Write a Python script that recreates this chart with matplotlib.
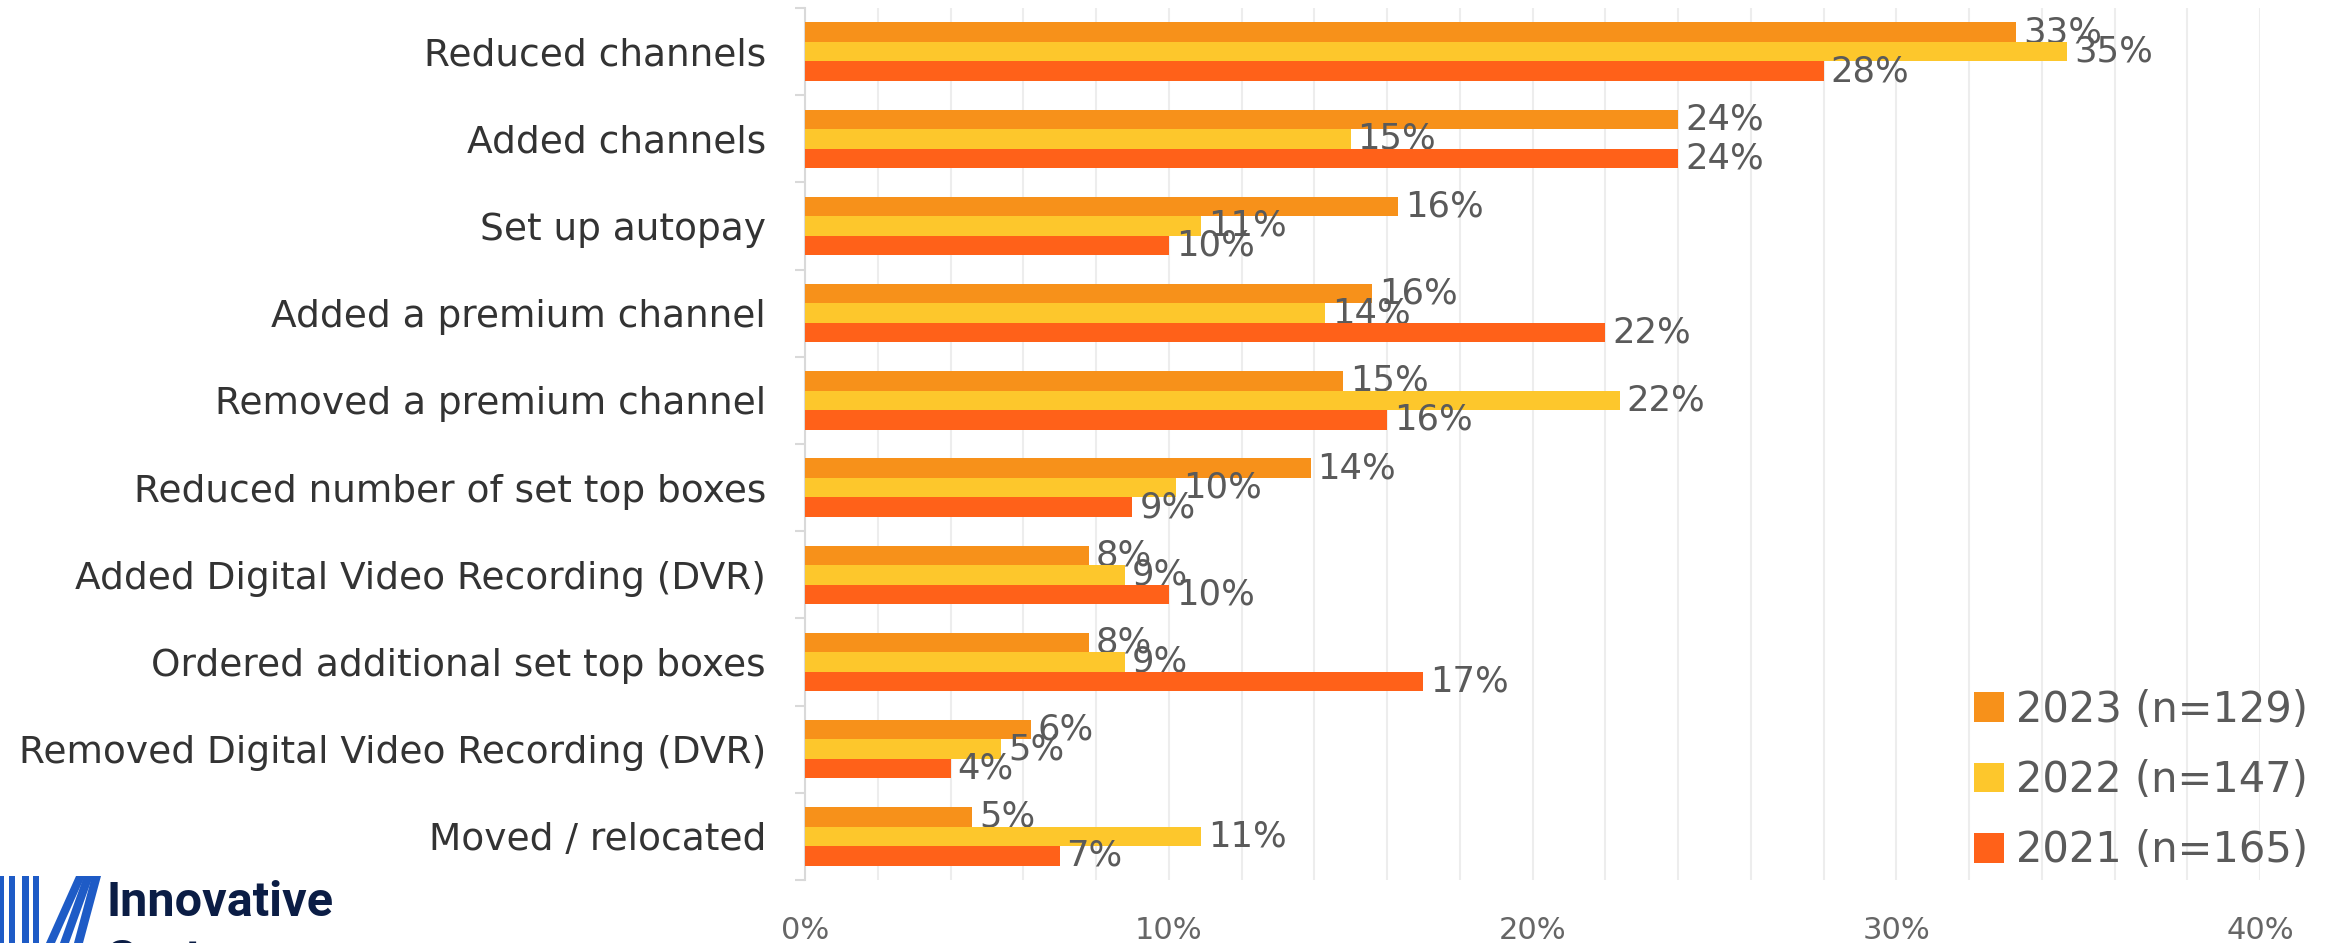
import matplotlib
matplotlib.use("Agg")
import matplotlib.pyplot as plt
from matplotlib.patches import Rectangle, Polygon
from matplotlib.ticker import MultipleLocator, FixedLocator
import numpy as np

plt.rcParams["font.family"] = ["DejaVu Sans"]

categories = [
    "Reduced channels",
    "Added channels",
    "Set up autopay",
    "Added a premium channel",
    "Removed a premium channel",
    "Reduced number of set top boxes",
    "Added Digital Video Recording (DVR)",
    "Ordered additional set top boxes",
    "Removed Digital Video Recording (DVR)",
    "Moved / relocated",
]
share_2023 = [33.3, 24.0, 16.3, 15.6, 14.8, 13.9, 7.8, 7.8, 6.2, 4.6]
share_2022 = [34.7, 15.0, 10.9, 14.3, 22.4, 10.2, 8.8, 8.8, 5.4, 10.9]
share_2021 = [28.0, 24.0, 10.0, 22.0, 16.0, 9.0, 10.0, 17.0, 4.0, 7.0]
series_names = ["2023 (n=129)", "2022 (n=147)", "2021 (n=165)"]
colors = ["#F7911A", "#FDC72C", "#FF6119"]

W, H = 2333, 943
fig = plt.figure(figsize=(W / 100, H / 100), dpi=100)
ax = fig.add_axes([805 / W, 1 - 880 / H, (2260 - 805) / W, (880 - 8) / H])

y = np.arange(len(categories))
bh = 0.224
offsets = [-bh, 0, bh]
handles = []
for vals, off, col, name in zip([share_2023, share_2022, share_2021], offsets, colors, series_names):
    bars = ax.barh(y + off, vals, height=bh, color=col, label=name, zorder=3)
    ax.bar_label(bars, labels=[f"{v:.0f}%" for v in vals], padding=5,
                 fontsize=25.5, color="#5A5A5A")
    handles.append(bars)

ax.set_ylim(len(categories) - 0.5, -0.5)
ax.set_xlim(0, 40)
ax.set_yticks(y)
ax.set_yticklabels(categories, fontsize=27, color="#333333")
ax.yaxis.set_minor_locator(FixedLocator(np.arange(-0.5, len(categories), 1)))
ax.tick_params(axis="y", which="major", length=0, pad=28)
ax.tick_params(axis="y", which="minor", length=7, color="#D9D9D9", width=1.5)

ax.set_xticks([0, 10, 20, 30, 40])
ax.set_xticklabels(["0%", "10%", "20%", "30%", "40%"],
                   family=["Liberation Sans Narrow", "DejaVu Sans"])
ax.xaxis.set_minor_locator(MultipleLocator(2))
ax.tick_params(axis="x", which="both", length=0, pad=26, labelsize=22, labelcolor="#666666")
ax.grid(axis="x", which="both", color="#EDEDED", linewidth=1.5, zorder=0)
ax.set_axisbelow(True)

for side in ["top", "right", "bottom"]:
    ax.spines[side].set_visible(False)
ax.spines["left"].set_color("#D9D9D9")
ax.spines["left"].set_linewidth(1.5)

fig.legend(handles=handles, labels=series_names, loc="center left",
           bbox_to_anchor=(1936 / W, 1 - 780 / H), frameon=False,
           prop={"size": 30}, labelcolor="#5A5A5A",
           handlelength=0.72, handleheight=0.72, handletextpad=0.3,
           labelspacing=0.68)


# company logo in the lower left corner
def px(x, yy):
    return (x / W, 1 - yy / H)


blue = "#1E5BC6"
navy = "#0B1D45"
for x0, x1 in [(0, 4), (9, 15), (22, 29), (33, 39)]:
    fig.add_artist(Rectangle(px(x0, 943), (x1 - x0) / W, 67 / H,
                             transform=fig.transFigure, color=blue, lw=0))
for k in range(3):
    xs = 46 + k * 14
    pts = [px(xs, 943), px(xs + 9, 943), px(xs + 9 + 30 - k * 6, 876), px(xs + 30 - k * 6, 876)]
    fig.add_artist(Polygon(pts, closed=True, transform=fig.transFigure, color=blue, lw=0))
fig.text(106 / W, 1 - 916 / H, "Innovative", fontsize=35, fontweight="bold",
         color=navy, family=["Roboto", "DejaVu Sans"], va="baseline")
fig.text(106 / W, 1 - 974 / H, "Systems", fontsize=35, fontweight="bold",
         color=navy, family=["Roboto", "DejaVu Sans"], va="baseline")

fig.savefig("out.png", dpi=100)
